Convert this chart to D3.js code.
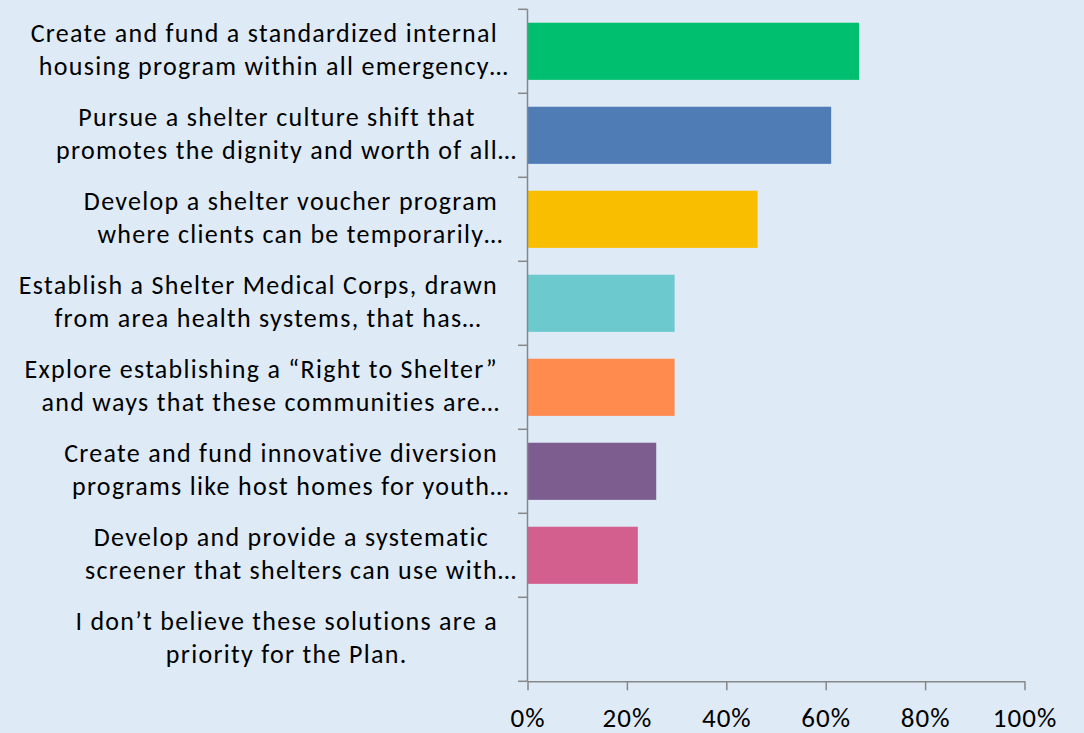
<!DOCTYPE html>
<html>
<head>
<meta charset="utf-8">
<script src="https://cdn.jsdelivr.net/npm/d3@7"></script>
<style>
  html, body { margin: 0; padding: 0; background: #DEEAF6; }
  svg { display: block; }
  text { font-family: Carlito, Lato, "Open Sans", sans-serif; fill: #000; }
</style>
</head>
<body>
<svg id="chart" width="1084" height="733"></svg>
<script>
const categories = [
  ["Create and fund a standardized internal", "housing program within all emergency…"],
  ["Pursue a shelter culture shift that", "promotes the dignity and worth of all…"],
  ["Develop a shelter voucher program", "where clients can be temporarily…"],
  ["Establish a Shelter Medical Corps, drawn", "from area health systems, that has…"],
  ["Explore establishing a “Right to Shelter”", "and ways that these communities are…"],
  ["Create and fund innovative diversion", "programs like host homes for youth…"],
  ["Develop and provide a systematic", "screener that shelters can use with…"],
  ["I don’t believe these solutions are a", "priority for the Plan."]
];
const values = [0.667, 0.611, 0.463, 0.296, 0.296, 0.259, 0.222, 0.0];
const colors = ["#00BF6F", "#507CB6", "#F9BE00", "#6CC9CE", "#FF8B4F", "#7D5D8F", "#D35F8F", "#999999"];
const xTicks = [0, 0.2, 0.4, 0.6, 0.8, 1.0];

const svg = d3.select("#chart");
const W = 1084, H = 733;
svg.append("rect").attr("width", W).attr("height", H).attr("fill", "#DEEAF6");

const fontSize = 26;
const letterSp = 1.3;
const axisColor = "#878787";
const ids = categories.map((c, i) => i);

const x = d3.scaleLinear().domain([0, 1]).range([527.5, 1024.5]);
const y = d3.scaleBand().domain(ids).range([9.3, 681.3]).paddingInner(0.32).paddingOuter(0.16);
const step = y.step();
const y0 = 9.3;

// bars
svg.append("g").selectAll("rect").data(ids).join("rect")
  .attr("x", x(0))
  .attr("y", i => y(i))
  .attr("width", i => x(values[i]) - x(0))
  .attr("height", y.bandwidth())
  .attr("fill", i => colors[i]);

// y axis line and ticks at band boundaries
const ya = svg.append("g").attr("stroke", axisColor).attr("stroke-width", 1.5);
ya.append("line").attr("x1", x(0)).attr("x2", x(0)).attr("y1", y0).attr("y2", y0 + step * ids.length);
d3.range(ids.length + 1).forEach(k => {
  ya.append("line").attr("x1", x(0) - 9.5).attr("x2", x(0))
    .attr("y1", y0 + k * step).attr("y2", y0 + k * step);
});

// x axis
const axisY = y0 + step * ids.length;
const xAxis = d3.axisBottom(x).tickValues(xTicks).tickSize(9).tickSizeOuter(0)
  .tickFormat(d3.format(".0%"));
const xg = svg.append("g").attr("transform", `translate(0,${axisY})`).call(xAxis);
xg.select(".domain").attr("stroke", axisColor).attr("stroke-width", 1.5);
xg.selectAll(".tick line").attr("stroke", axisColor).attr("stroke-width", 1.5);
xg.selectAll(".tick text")
  .attr("dy", null).attr("y", 46)
  .style("font-family", "Carlito, Lato, 'Open Sans', sans-serif")
  .style("font-size", "27px").style("letter-spacing", "1px").attr("fill", "#000");

// category labels: lines centred in a block right-aligned at x=498
const rightEdge = 498;
const lg = svg.append("g").style("font-size", fontSize + "px").style("letter-spacing", letterSp + "px");
const measure = lg.append("text").attr("x", -1000).attr("y", -1000);
function textW(s) { measure.text(s); return measure.node().getComputedTextLength(); }

ids.forEach(i => {
  const lines = categories[i];
  const core = lines.map(s => s.replace(/…$/, ""));
  const widths = core.map(textW);
  const maxW = d3.max(widths);
  const cx = rightEdge - maxW / 2;
  const cy = y(i) + y.bandwidth() / 2;
  const baselines = [cy - 9, cy + 24];
  lines.forEach((s, k) => {
    lg.append("text")
      .attr("x", cx - widths[k] / 2)
      .attr("y", baselines[k])
      .text(s);
  });
});
measure.remove();
</script>
</body>
</html>
